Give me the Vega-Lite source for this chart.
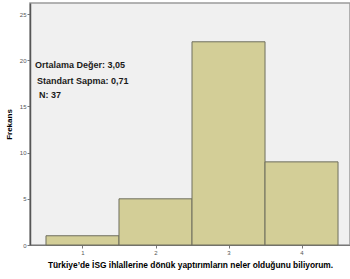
{
  "$schema": "https://vega.github.io/schema/vega-lite/v6.json",
  "width": 320,
  "height": 242,
  "autosize": {"type": "none"},
  "padding": {"left": 30, "top": 3, "right": 0, "bottom": 34},
  "background": "white",
  "config": {
    "view": {"fill": "#f0f0f0", "stroke": "#9a9a9a", "strokeWidth": 1.5},
    "font": "Liberation Sans"
  },
  "layer": [
    {
      "data": {"values": [
        {"deger": 1, "frekans": 1},
        {"deger": 2, "frekans": 5},
        {"deger": 3, "frekans": 22},
        {"deger": 4, "frekans": 9}
      ]},
      "transform": [
        {"calculate": "datum.deger - 0.5", "as": "x0"},
        {"calculate": "datum.deger + 0.5", "as": "x1"}
      ],
      "mark": {"type": "rect", "fill": "#d3ce97", "stroke": "#6e6e5e", "strokeWidth": 1},
      "encoding": {
        "x": {
          "field": "x0", "type": "quantitative",
          "scale": {"domain": [0.281, 4.664], "nice": false, "zero": false},
          "axis": {
            "title": "Türkiye’de İSG ihlallerine dönük yaptırımların neler olduğunu biliyorum.",
            "titleFontSize": 8.4, "titleFontWeight": "bold", "titleColor": "#000000", "titlePadding": 5,
            "values": [1, 2, 3, 4], "format": "d", "labelFontSize": 6, "labelColor": "#555555",
            "tickSize": 3, "tickColor": "#777777", "domainColor": "#777777", "grid": false,
            "labelPadding": 1
          }
        },
        "x2": {"field": "x1"},
        "y": {
          "field": "frekans", "type": "quantitative",
          "scale": {"domain": [0, 26.2], "nice": false},
          "axis": {
            "title": "Frekans", "titleFontSize": 8, "titleFontWeight": "bold", "titleColor": "#000000",
            "values": [0, 5, 10, 15, 20, 25], "labelFontSize": 6, "labelColor": "#555555",
            "tickSize": 3, "tickColor": "#777777", "domainColor": "#555555", "domainWidth": 1.5, "grid": false,
            "labelPadding": 1, "titlePadding": 6
          }
        },
        "y2": {"datum": 0}
      }
    },
    {
      "data": {"values": [
        {"x": 0.35, "y": 19.5, "t": "Ortalama Değer: 3,05"},
        {"x": 0.377, "y": 17.75, "t": "Standart Sapma: 0,71"},
        {"x": 0.404, "y": 16.25, "t": "N: 37"}
      ]},
      "mark": {"type": "text", "align": "left", "baseline": "middle", "fontSize": 9, "fontWeight": "bold", "color": "#1a1a1a"},
      "encoding": {
        "x": {"field": "x", "type": "quantitative"},
        "y": {"field": "y", "type": "quantitative"},
        "text": {"field": "t"}
      }
    }
  ]
}
